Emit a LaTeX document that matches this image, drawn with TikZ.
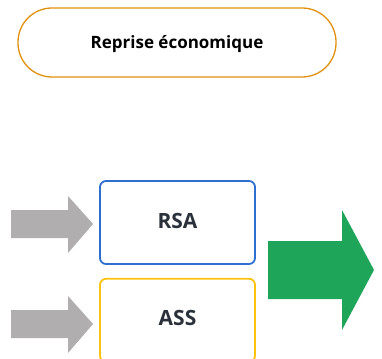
\documentclass[tikz,border=0pt]{standalone}
\usepackage{fontspec}
\setmainfont{Open Sans}
\usetikzlibrary{positioning}
\definecolor{pillorange}{HTML}{E0900E}
\definecolor{rsablue}{HTML}{2E6FD0}
\definecolor{assyellow}{HTML}{FFC20E}
\definecolor{feedgray}{HTML}{B0AEAE}
\definecolor{outgreen}{HTML}{1FA55A}
\definecolor{labeldark}{HTML}{2B313A}

\begin{document}
\begin{tikzpicture}[
    x=1pt, y=-1pt,
    every node/.style={font=\bfseries},
    aidbox/.style={draw, line width=1.8pt, rounded corners=6pt,
        minimum width=155pt, minimum height=83pt, text=labeldark,
        font=\fontsize{21}{24}\selectfont\bfseries,
        text height=15pt, text depth=4pt}
]
    \useasboundingbox (0,0) rectangle (382,358);

    \node (reprise) [draw=pillorange, line width=1.3pt, rounded corners=34pt,
        minimum width=318pt, minimum height=69pt, text height=12pt, text depth=0pt,
        font=\fontsize{17}{20}\selectfont\bfseries] at (177,42.5) {Reprise économique};

    \node (rsa) [aidbox, draw=rsablue] at (177.5,222.5) {RSA};
    \node (ass) [aidbox, draw=assyellow, below=13pt of rsa] {ASS};

    % arrows feeding the boxes
    \fill[feedgray] (11,210) -- (68,210) -- (68,196) -- (93,224) -- (68,253) -- (68,238) -- (11,238) -- cycle;
    \fill[feedgray] (11,310) -- (68,310) -- (68,296) -- (93,324) -- (68,353) -- (68,338) -- (11,338) -- cycle;

    % outgoing arrow
    \fill[outgreen] (268,241) -- (342,241) -- (342,210) -- (374,270) -- (342,330) -- (342,299) -- (268,299) -- cycle;
\end{tikzpicture}
\end{document}
